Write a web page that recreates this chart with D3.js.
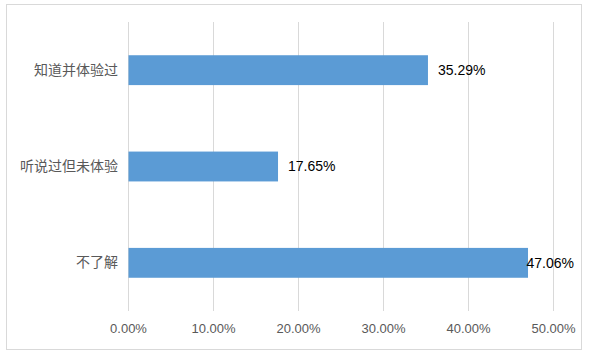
<!DOCTYPE html>
<html><head><meta charset="utf-8">
<script src="https://cdn.jsdelivr.net/npm/d3@7"></script>
<style>body{margin:0;background:#fff}svg{display:block}</style>
</head><body>
<script>
const categories = ["知道并体验过", "听说过但未体验", "不了解"];
const values = [35.29, 17.65, 47.06];
const tickValues = [0, 10, 20, 30, 40, 50];

const W = 594, H = 356;
const svg = d3.select("body").append("svg").attr("width", W).attr("height", H);
svg.append("rect").attr("x", 6.5).attr("y", 4.5).attr("width", 575).attr("height", 345)
  .attr("fill", "#fff").attr("stroke", "#d9d9d9").attr("stroke-width", 1);

const x = d3.scaleLinear().domain([0, 50]).range([128, 553]);
const y = d3.scaleBand().domain(categories).range([22, 311]).paddingInner(0.69).paddingOuter(0.345);

const grid = svg.append("g");
grid.selectAll("line").data(tickValues).join("line")
  .attr("x1", d => Math.round(x(d)) + 0.5).attr("x2", d => Math.round(x(d)) + 0.5)
  .attr("y1", 22).attr("y2", 311)
  .attr("stroke", "#d9d9d9").attr("stroke-width", 1);

const xAxis = svg.append("g").attr("transform", "translate(0,311)")
  .call(d3.axisBottom(x).tickValues(tickValues).tickSize(0).tickPadding(13).tickFormat(d => d.toFixed(2) + "%"));
xAxis.select(".domain").remove();
xAxis.selectAll("text").attr("fill", "#595959").style("font-family", "Arial, 'Liberation Sans', sans-serif").style("font-size", "13px");

const yAxis = svg.append("g").attr("transform", "translate(128,0)")
  .call(d3.axisLeft(y).tickSize(0).tickPadding(10));
yAxis.select(".domain").remove();
yAxis.selectAll("text").attr("fill", "#595959").style("font-family", "'Noto Sans CJK SC', sans-serif").style("font-size", "14px");

svg.append("g").selectAll("rect").data(categories).join("rect")
  .attr("x", x(0) + 0.5).attr("y", d => y(d))
  .attr("width", (d, i) => x(values[i]) - x(0) - 0.5).attr("height", y.bandwidth())
  .attr("fill", "#5b9bd5");

const labels = svg.append("g").selectAll("text").data(categories).join("text")
  .attr("y", d => y(d) + y.bandwidth() / 2).attr("dy", "0.35em")
  .attr("fill", "#000").style("font-family", "Arial, 'Liberation Sans', sans-serif").style("font-size", "14px")
  .text((d, i) => values[i].toFixed(2) + "%");
labels.each(function (d, i) {
  const w = this.getComputedTextLength();
  const px = Math.min(x(values[i]) + 10, 574 - w);
  d3.select(this).attr("x", px);
});
</script>
</body></html>
